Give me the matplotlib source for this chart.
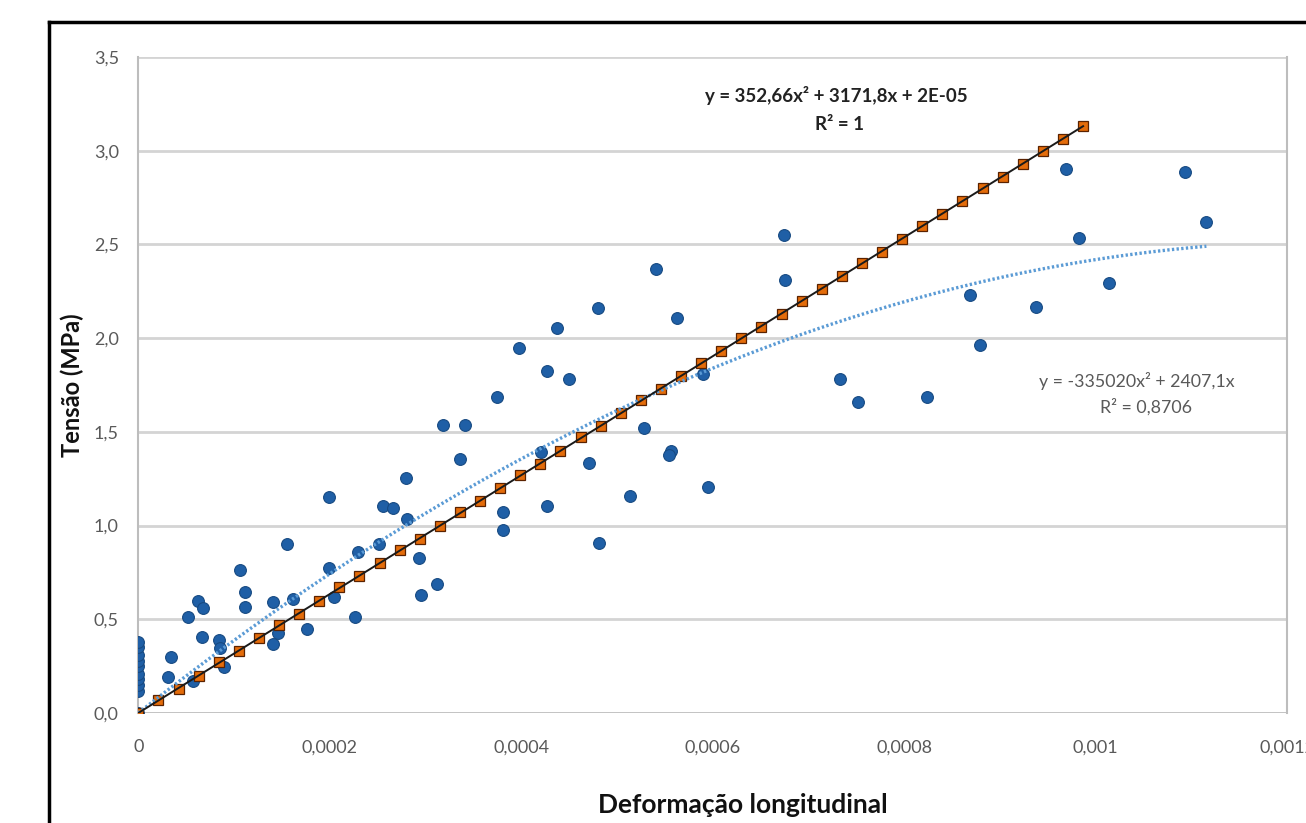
import numpy as np
import matplotlib
matplotlib.use("Agg")
import matplotlib.pyplot as plt
from matplotlib.lines import Line2D

plt.rcParams["font.family"] = ["Lato", "DejaVu Sans"]

# measured points (blue)
strain_meas = [
    0, 0, 0, 0, 0, 0, 0, 0, 0, 0,
    0.0000311, 0.0000342, 0.0000520, 0.0000572, 0.0000625, 0.0000677, 0.0000666,
    0.0000844, 0.0000855, 0.0000896, 0.0001064, 0.0001116, 0.0001116, 0.0001409,
    0.0001461, 0.0001409, 0.0001555, 0.0001618, 0.0001765, 0.0001994, 0.0001994,
    0.0002047, 0.0002266, 0.0002298, 0.0002518, 0.0002560, 0.0002664, 0.0002800,
    0.0002810, 0.0002936, 0.0002957, 0.0003124, 0.0003187, 0.0003417, 0.0003365,
    0.0003752, 0.0003815, 0.0003815, 0.0003982, 0.0004202, 0.0004265, 0.0004265,
    0.0004370, 0.0004495, 0.0004704, 0.0004798, 0.0004808, 0.0005133, 0.0005279,
    0.0005405, 0.0005561, 0.0005541, 0.0005625, 0.0005896, 0.0005949, 0.0006743,
    0.0006753, 0.0007329, 0.0007518, 0.0008240, 0.0008689, 0.0008794, 0.0009380,
    0.0009694, 0.0009830, 0.0010143, 0.0010938, 0.0011158,
]
stress_meas = [
    0.0, 0.12, 0.15, 0.18, 0.21, 0.25, 0.28, 0.31, 0.35, 0.38,
    0.19, 0.30, 0.51, 0.17, 0.60, 0.56, 0.405,
    0.39, 0.345, 0.245, 0.765, 0.645, 0.565, 0.59,
    0.425, 0.37, 0.90, 0.61, 0.45, 1.15, 0.775,
    0.62, 0.51, 0.86, 0.90, 1.105, 1.095, 1.255,
    1.035, 0.825, 0.63, 0.69, 1.535, 1.535, 1.355,
    1.685, 1.07, 0.975, 1.95, 1.39, 1.825, 1.105,
    2.055, 1.78, 1.335, 2.16, 0.905, 1.16, 1.52,
    2.37, 1.40, 1.375, 2.11, 1.81, 1.205, 2.55,
    2.31, 1.78, 1.66, 1.685, 2.23, 1.965, 2.165,
    2.905, 2.535, 2.295, 2.885, 2.62,
]

# model points (orange)
strain_model = [
    0, 0.000021, 0.000042, 0.000063, 0.000084, 0.000105, 0.000126, 0.000147,
    0.000168, 0.000189, 0.000210, 0.000231, 0.000252, 0.000273, 0.000294, 0.000315,
    0.000336, 0.000357, 0.000378, 0.000399, 0.000420, 0.000441, 0.000462, 0.000483,
    0.000504, 0.000525, 0.000546, 0.000567, 0.000588, 0.000609, 0.000630, 0.000651,
    0.000672, 0.000693, 0.000714, 0.000735, 0.000756, 0.000777, 0.000798, 0.000819,
    0.000840, 0.000861, 0.000882, 0.000903, 0.000924, 0.000945, 0.000966, 0.000987,
]
stress_model = [
    0.00, 0.07, 0.13, 0.20, 0.27, 0.33, 0.40, 0.47,
    0.53, 0.60, 0.67, 0.73, 0.80, 0.87, 0.93, 1.00,
    1.07, 1.13, 1.20, 1.27, 1.33, 1.40, 1.47, 1.53,
    1.60, 1.67, 1.73, 1.80, 1.87, 1.93, 2.00, 2.06,
    2.13, 2.20, 2.26, 2.33, 2.40, 2.46, 2.53, 2.60,
    2.66, 2.73, 2.80, 2.86, 2.93, 3.00, 3.06, 3.13,
]

# trendline coefficients (highest power first)
trend_model = [352.66, 3171.8, 2e-05]
trend_meas = [-1.617e6, 4036.0, 0.0]   # as drawn in the picture

eq_model = ["y = 352,66x² + 3171,8x + 2E-05", "R² = 1"]
eq_meas = ["y = -335020x² + 2407,1x", "R² = 0,8706"]

xticks = [0, 0.0002, 0.0004, 0.0006, 0.0008, 0.001, 0.0012]
xtick_labels = ["0", "0,0002", "0,0004", "0,0006", "0,0008", "0,001", "0,0012"]
yticks = [0, 0.5, 1.0, 1.5, 2.0, 2.5, 3.0, 3.5]
ytick_labels = ["0,0", "0,5", "1,0", "1,5", "2,0", "2,5", "3,0", "3,5"]

W, H = 1306, 823
fig = plt.figure(figsize=(W / 100, H / 100), dpi=100)
fig.patch.set_facecolor("white")

left, right, top, bottom = 138.3, 1287, 57, 713
ax = fig.add_axes([left / W, 1 - bottom / H, (right - left) / W, (bottom - top) / H])

ax.set_xlim(0, 0.0012)
ax.set_ylim(0, 3.5)

# grid
for yv in yticks:
    ax.axhline(yv, color="#D4D4D4" if yv > 0 else "#BDBDBD", lw=2.0, zorder=0)

ax.scatter(strain_meas, stress_meas, s=72, color="#1F5FA6", edgecolors="#174a82",
           linewidths=0.8, zorder=3)
ax.plot(strain_model, stress_model, ls="none", marker="s", ms=7,
        mfc="#E46C0A", mec="#5a2200", mew=0.9, zorder=4)

xs = np.linspace(0, max(strain_meas), 200)
ax.plot(xs, np.polyval(trend_meas, xs), color="#5B9BD5", lw=2.4,
        dashes=(0.7, 0.7), zorder=5)
xs = np.linspace(0, max(strain_model), 200)
ax.plot(xs, np.polyval(trend_model, xs), color="#1a1a1a", lw=1.4, zorder=6)

ax.set_xticks(xticks)
ax.set_xticklabels(xtick_labels)
ax.set_yticks(yticks)
ax.set_yticklabels(ytick_labels)
ax.tick_params(length=0, labelsize=13, colors="#595959")
ax.tick_params(axis="x", pad=19)
ax.tick_params(axis="y", pad=14)

for side in ["top", "bottom"]:
    ax.spines[side].set_visible(False)
for side in ["left", "right"]:
    ax.spines[side].set_color("#BDBDBD")
    ax.spines[side].set_linewidth(1.5)

ax.set_ylabel("Tensão (MPa)", fontsize=17, fontweight="bold", color="#111111")
ax.yaxis.set_label_coords(-0.047, 0.5)
ax.set_xlabel("Deformação longitudinal", fontsize=19, fontweight="bold", color="#111111")
ax.xaxis.set_label_coords(0.526, -0.122)

ax.text(0.000729, 3.295, eq_model[0], ha="center", va="center", fontsize=13.5,
        fontweight="bold", color="#222222")
ax.text(0.000732, 3.14, eq_model[1], ha="center", va="center", fontsize=13.5,
        fontweight="bold", color="#222222")
ax.text(0.001043, 1.77, eq_meas[0], ha="center", va="center", fontsize=12.8,
        color="#595959")
ax.text(0.001053, 1.635, eq_meas[1], ha="center", va="center", fontsize=12.8,
        color="#595959")

# outer frame of the original chart (cropped on the right and bottom)
bx, by = 49 / W, 1 - 22 / H
fig.add_artist(Line2D([bx, bx], [-0.05, by], transform=fig.transFigure,
                      color="black", lw=2.5))
fig.add_artist(Line2D([bx, 1.05], [by, by], transform=fig.transFigure,
                      color="black", lw=2.5))

fig.savefig("out.png", dpi=100)
